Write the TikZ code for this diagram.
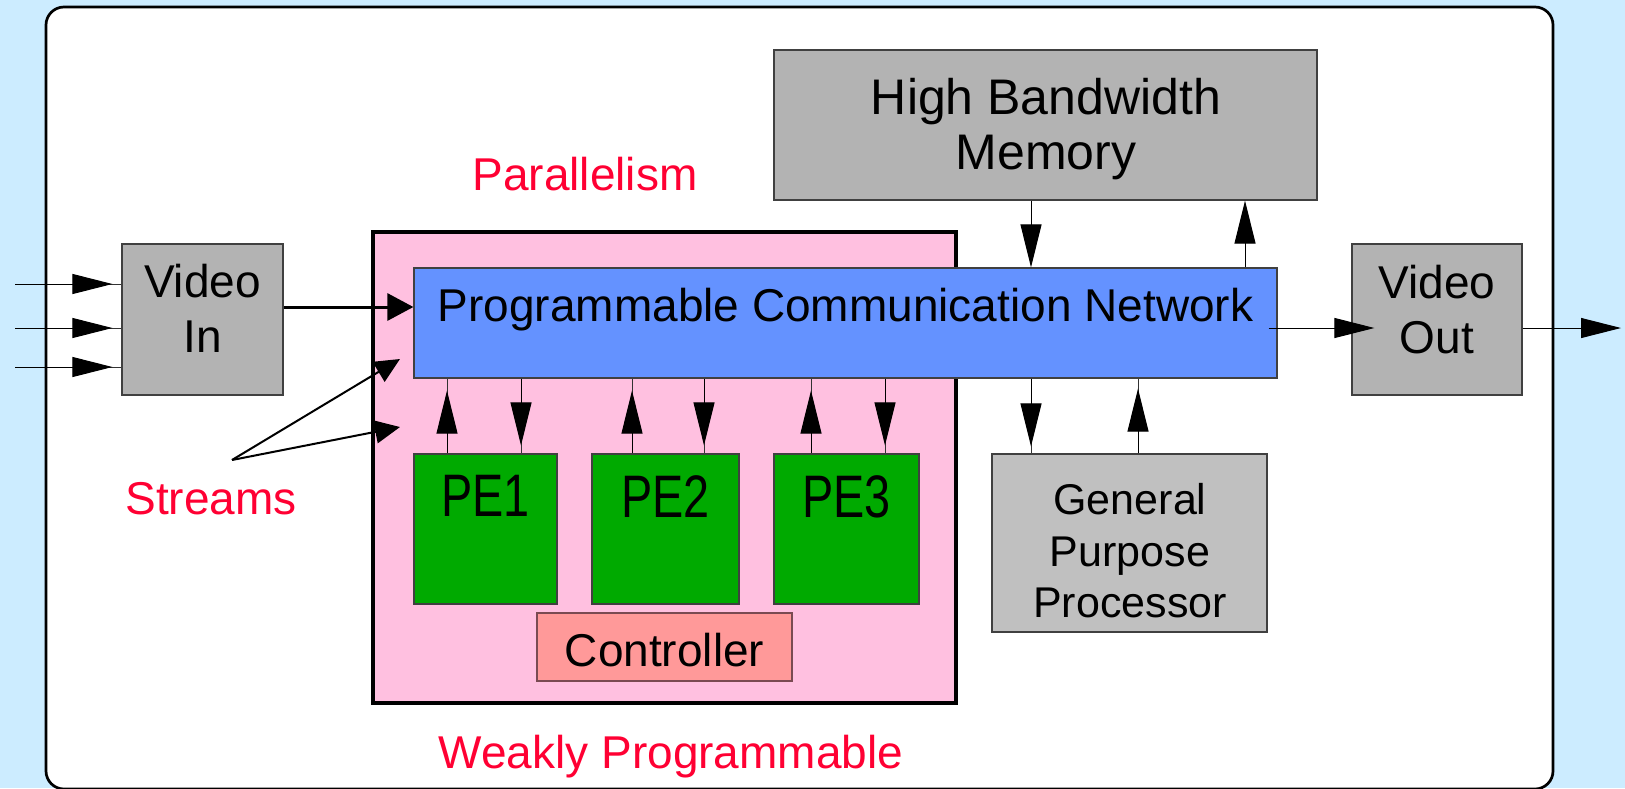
\documentclass[tikz,border=0pt]{standalone}
\usepackage{fontspec}
\usepackage{graphicx}
\setmainfont{Liberation Sans}
\usetikzlibrary{arrows.meta,fit}

\definecolor{bgblue}{HTML}{CCECFF}
\definecolor{pinkfill}{HTML}{FFC0E0}
\definecolor{netblue}{HTML}{6492FF}
\definecolor{boxgray}{HTML}{B3B3B3}
\definecolor{procgray}{HTML}{C0C0C0}
\definecolor{pegreen}{HTML}{00AA00}
\definecolor{ctrlfill}{HTML}{FF9999}
\definecolor{ctrlline}{HTML}{7A4A52}
\definecolor{labelred}{HTML}{FF0033}

\tikzset{
  blk/.style={draw=black!75, line width=0.6pt, inner sep=0pt},
  txt/.style={inner sep=0pt, anchor=north, align=center,
              font=\fontsize{23}{27.5}\selectfont},
  lbl/.style={txt, text=labelred},
  wire/.style={line width=0.5pt, draw=black!80},
  head/.style={-{Triangle[length=21.5pt,width=10.5pt]}, draw=black},
  inhead/.style={-{Triangle[length=20pt,width=10pt]}, draw=black},
}

\begin{document}
\begin{tikzpicture}[x=0.5pt,y=-0.5pt]
\useasboundingbox (0,0) rectangle (1625,788);
\fill[bgblue] (0,0) rectangle (1625,788);

% slide panel
\draw[line width=1.35pt, fill=white, rounded corners=9pt] (46,7) rectangle (1553,789);

% weakly programmable block
\node[fit={(373,232) (956,703)}, inner sep=0pt, draw=black, line width=1.6pt,
      fill=pinkfill] (wp) {};

% boxes
\node[blk, fill=boxgray, fit={(122,244) (283,395)}] (vin) {};
\node[blk, fill=boxgray, fit={(1352,244) (1522,395)}] (vout) {};
\node[blk, fill=netblue, fit={(414,268) (1277,378)}] (pcn) {};
\node[blk, fill=boxgray, fit={(774,50) (1317,200)}] (hbm) {};
\node[blk, fill=procgray, fit={(992,454) (1267,632)}] (gpp) {};
\node[blk, fill=pegreen, fit={(414,454) (557,604)}] (pe1) {};
\node[blk, fill=pegreen, fit={(592,454) (739,604)}] (pe2) {};
\node[blk, fill=pegreen, fit={(774,454) (919,604)}] (pe3) {};
\node[blk, draw=ctrlline, fill=ctrlfill, fit={(537,613) (792,681)}] (ctrl) {};

% box texts
\node[txt] (vinT) at (202.5,264) {Video\\In};
\node[txt] (voutT) at (1437,265) {Video\\Out};
\node[txt] (pcnT) at (845.5,288) {Programmable Communication Network};
\node[txt, font=\fontsize{25}{27.5}\selectfont] (hbmT) at (1046,78) {High Bandwidth\\Memory};
\node[txt, font=\fontsize{21.5}{25.75}\selectfont] (gppT) at (1130,483) {General\\Purpose\\Processor};
\node[txt, font=\fontsize{30}{36}\selectfont] (pe1T) at (485.5,475) {\scalebox{0.78}[1]{PE1}};
\node[txt, font=\fontsize{30}{36}\selectfont] (pe2T) at (665.5,475) {\scalebox{0.78}[1]{PE2}};
\node[txt, font=\fontsize{30}{36}\selectfont] (pe3T) at (846.5,475) {\scalebox{0.78}[1]{PE3}};
\node[txt] (ctrlT) at (664.5,633) {Controller};

% red labels
\node[lbl] (parT) at (585,157) {Parallelism};
\node[lbl] (streamsT) at (211,482) {Streams};
\node[lbl] (weakT) at (671,735) {Weakly Programmable};

% video inputs
\coordinate (in1) at (15,284);
\coordinate (in2) at (15,328);
\coordinate (in3) at (15,367);
\foreach \c in {in1,in2,in3}{
  \draw[wire] (\c) -- (\c -| vin.west);
  \draw[wire, inhead, shorten >=4.5pt] (\c) -- (\c -| vin.west);
}

% video in to network
\draw[line width=1.5pt, -{Triangle[length=13pt,width=13.5pt]}]
  (vin.east |- 0,307) -- (pcn.west |- 0,307);

% streams
\coordinate (sorig) at (232,460);
\coordinate (s1) at (400,359);
\coordinate (s2) at (400,427);
\draw[line width=1pt, -{Triangle[length=12.5pt,width=11.5pt]}] (sorig) -- (s1);
\draw[line width=1pt, -{Triangle[length=12.5pt,width=11.5pt]}] (sorig) -- (s2);

% processing elements <-> network
\foreach \pe/\up/\dn in {pe1/447/521, pe2/632/704, pe3/811/885}{
  \draw[wire] (\pe.north -| \up,0) -- (pcn.south -| \up,0);
  \draw[wire, head, shorten >=6pt] (\pe.north -| \up,0) -- (pcn.south -| \up,0);
  \draw[wire] (pcn.south -| \dn,0) -- (\pe.north -| \dn,0);
  \draw[wire, head, shorten >=4pt] (pcn.south -| \dn,0) -- (\pe.north -| \dn,0);
}

% memory <-> network
\draw[wire, head] (hbm.south -| 1031,0) -- (pcn.north -| 1031,0);
\draw[wire, head] (pcn.north -| 1245,0) -- (hbm.south -| 1245,0);

% processor <-> network
\draw[wire] (pcn.south -| 1031,0) -- (gpp.north -| 1031,0);
\draw[wire, head, shorten >=3.5pt] (pcn.south -| 1031,0) -- (gpp.north -| 1031,0);
\draw[wire] (gpp.north -| 1138,0) -- (pcn.south -| 1138,0);
\draw[wire, head, shorten >=5pt] (gpp.north -| 1138,0) -- (pcn.south -| 1138,0);

% network to video out, and output
\draw[wire, inhead, shorten <=-4.5pt, shorten >=-11.5pt]
  (pcn.east |- 0,328) -- (vout.west |- 0,328);
\coordinate (vidout) at (1621,328);
\draw[wire, inhead] (vout.east |- 0,328) -- (vidout);
\end{tikzpicture}
\end{document}
